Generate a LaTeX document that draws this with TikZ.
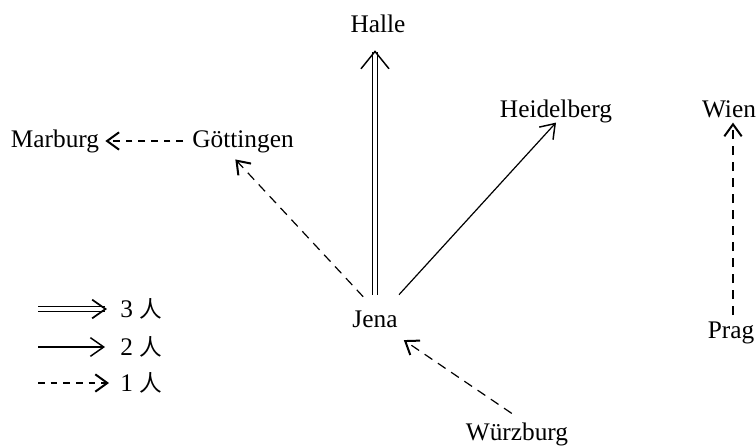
\documentclass[tikz,border=0pt]{standalone}
\usepackage{fontspec}
\setmainfont{Liberation Serif}
\newfontfamily\cjk{Noto Sans CJK SC}
\usetikzlibrary{arrows.meta}
\begin{document}
\begin{tikzpicture}[x=0.75pt,y=-0.75pt,
  city/.style={font=\fontsize{19}{22}\selectfont, inner sep=0pt, text height=13pt, text depth=4pt, anchor=base},
  lab/.style={font=\fontsize{19}{22}\selectfont, inner sep=0pt, text height=13pt, text depth=4pt, anchor=base west},
  one/.style={line width=0.9pt, dash pattern=on 7pt off 5pt, -{Straight Barb[length=9pt,width=13pt,line width=1.5pt]}},
  oneshort/.style={line width=0.9pt, dash pattern=on 5pt off 4.5pt, -{Straight Barb[length=9pt,width=13pt,line width=1.5pt]}},
  two/.style={line width=0.9pt, -{Straight Barb[length=10pt,width=14pt,line width=1.1pt]}},
  three/.style={line width=0.75pt, double, double distance=3.2pt, -{Straight Barb[length=13pt,width=21pt,line width=1.1pt]}},
  threeL/.style={line width=0.8pt, double, double distance=2.4pt, -{Straight Barb[length=10pt,width=14pt,line width=1.3pt]}},
]
\useasboundingbox (0,0) rectangle (756,446);
% cities
\node[city] (halle) at (378,32) {Halle};
\node[city] (heidelberg) at (556,117) {Heidelberg};
\node[city] (wien) at (729,117) {Wien};
\node[city] (marburg) at (55,147) {Marburg};
\node[city] (gottingen) at (243,147) {Göttingen};
\node[city] (jena) at (375,327) {Jena};
\node[city] (prag) at (731,338) {Prag};
\node[city] (wurzburg) at (517,440) {Würzburg};
% connectors
\draw[three, shorten <=11pt, shorten >=9.5pt] (jena.north) -- (jena.north |- halle.south);
\draw[two, shorten <=15pt] (jena) -- (heidelberg.south);
\draw[one, shorten <=13pt, shorten >=7pt] (jena.north) -- ([xshift=-10.5pt]gottingen.south);
\draw[oneshort, shorten <=6.75pt, shorten >=4.5pt] (gottingen.west) -- (marburg.east);
\draw[one, shorten <=12pt, shorten >=10pt] ([xshift=6pt]wurzburg.north) -- ([xshift=-3.75pt]jena.south east);
\draw[one, shorten <=4pt, shorten >=0pt] ([xshift=1.5pt]prag.north) -- ([xshift=1.5pt]prag.north |- wien.south);
% legend
\coordinate (l3a) at (38,309);
\coordinate (l3b) at (107,309);
\coordinate (l2a) at (38,347);
\coordinate (l2b) at (105,347);
\coordinate (l1a) at (38,383);
\coordinate (l1b) at (109,383);
\node[lab] (t3) at (120,317) {3 {\cjk\fontsize{17}{20}\selectfont 人}};
\node[lab] (t2) at (120,355) {2 {\cjk\fontsize{17}{20}\selectfont 人}};
\node[lab] (t1) at (120,391) {1 {\cjk\fontsize{17}{20}\selectfont 人}};
\draw[threeL] (l3a) -- (l3b);
\draw[two] (l2a) -- (l2b);
\draw[oneshort] (l1a) -- (l1b);
\end{tikzpicture}
\end{document}
